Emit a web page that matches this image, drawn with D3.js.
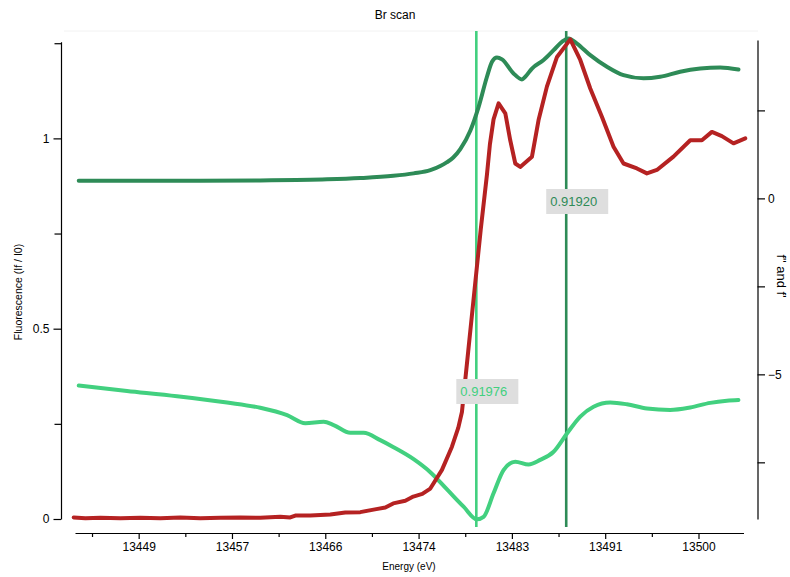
<!DOCTYPE html>
<html>
<head>
<meta charset="utf-8">
<script src="https://cdn.jsdelivr.net/npm/d3@7"></script>
<style>
  body { margin: 0; background: #fff; }
  svg { display: block; font-family: "Liberation Sans", Arial, sans-serif; }
  .axis path, .axis line { stroke: #000; stroke-width: 1.2; }
  .axis text { font-size: 12px; fill: #000; }
</style>
</head>
<body>
<svg id="chart" width="790" height="577"></svg>
<script>
// fluorescence scan (left axis)
var fluorEnergy = [13442.88, 13443.95, 13445.32, 13447.13, 13448.95, 13450.77, 13452.59, 13454.41,
  13456.24, 13458.06, 13459.88, 13461.70, 13462.61, 13463.07, 13464.44, 13466.26, 13467.62,
  13468.99, 13470.45, 13471.27, 13471.99, 13473.09, 13473.82, 13474.64, 13475.37, 13476.43,
  13477.34, 13477.92, 13478.25, 13478.82, 13479.39, 13479.96, 13480.53, 13480.80, 13481.13,
  13481.59, 13482.20, 13482.65, 13483.11, 13483.56, 13484.63,
  13485.23, 13485.99, 13486.91, 13488.12, 13489.03, 13489.94, 13491.00, 13492.06, 13492.97,
  13494.19, 13495.10, 13496.01, 13497.52, 13499.05, 13500.11, 13501.02, 13501.93, 13502.99, 13504.06];
var fluorValue = [0.004, 0.002, 0.003, 0.002, 0.003, 0.002, 0.004, 0.002,
  0.003, 0.004, 0.003, 0.006, 0.004, 0.009, 0.009, 0.012, 0.017,
  0.018, 0.026, 0.030, 0.041, 0.048, 0.059, 0.066, 0.080, 0.129,
  0.190, 0.240, 0.281, 0.440, 0.600, 0.760, 0.905, 0.985, 1.050,
  1.092, 1.066, 0.995, 0.934, 0.925, 0.952,
  1.048, 1.136, 1.214, 1.260, 1.206, 1.131, 1.057, 0.978, 0.934,
  0.921, 0.908, 0.917, 0.952, 0.995, 0.995, 1.017, 1.006, 0.987, 1.000];

// f'' (right axis)
var fppEnergy = [13443.34, 13445.32, 13448.95, 13454.41, 13459.88, 13465.96, 13468.99, 13472.00,
  13473.85, 13475.37, 13476.28, 13476.89, 13477.46, 13478.10, 13479.01, 13479.77,
  13480.53, 13480.99, 13481.44, 13481.90, 13482.95, 13483.72, 13484.02, 13484.63, 13485.69,
  13486.60, 13487.36, 13487.96, 13488.73, 13489.94, 13491.46, 13492.97, 13494.79, 13496.31,
  13498.13, 13499.96, 13501.78, 13503.44];
var fppValue = [0.50, 0.50, 0.50, 0.50, 0.51, 0.54, 0.577, 0.64,
  0.71, 0.80, 0.92, 1.03, 1.16, 1.40, 1.92, 2.60,
  3.455, 3.88, 4.006, 3.95, 3.55, 3.38, 3.455, 3.69, 3.93,
  4.21, 4.45, 4.545, 4.40, 4.07, 3.74, 3.50, 3.41, 3.455,
  3.60, 3.69, 3.72, 3.66];

// f' (right axis)
var fpEnergy = [13443.34, 13447.74, 13452.30, 13456.85, 13459.88, 13462.32, 13463.98, 13465.65,
  13466.56, 13468.08, 13469.29, 13470.81, 13472.02, 13473.85, 13475.37, 13476.89, 13478.40,
  13479.62, 13480.22, 13481.13, 13482.04, 13483.11, 13484.32, 13485.38, 13486.60, 13487.82,
  13489.03, 13490.24, 13491.76, 13493.28, 13495.10, 13497.22, 13499.05, 13500.87, 13502.39, 13503.44];
var fpValue = [-5.32, -5.47, -5.62, -5.80, -5.95, -6.16, -6.39, -6.35,
  -6.44, -6.66, -6.66, -6.87, -7.07, -7.41, -7.78, -8.27, -8.76,
  -9.12, -9.05, -8.38, -7.72, -7.48, -7.56, -7.43, -7.20, -6.68,
  -6.20, -5.92, -5.80, -5.85, -5.97, -6.01, -5.94, -5.81, -5.75, -5.73];

// chosen energies with wavelength labels
var markerEnergy = [13479.56, 13487.75];
var markerLabel = ["0.91976", "0.91920"];

var xTicks = [13448.8, 13457.3, 13465.8, 13474.3, 13482.8, 13491.3, 13499.8];
var xTickLabels = ["13449", "13457", "13466", "13474", "13483", "13491", "13500"];
var xMinorTicks = [13444.55, 13453.05, 13461.55, 13470.05, 13478.55, 13487.05, 13495.55];
var leftTicks = [0, 0.5, 1];
var leftMinorTicks = [0.25, 0.75, 1.25];
var rightTicks = [0, -5];
var rightMinorTicks = [2.5, -2.5, -7.5];

var svg = d3.select("#chart");

var red = "#b52222",
    darkGreen = "#2e8b57",
    lightGreen = "#42d07f";

var x = d3.scaleLinear().domain([13443.0, 13503.9]).range([75, 743.5]);
var yLeft = d3.scaleLinear().domain([0, 1.254]).range([519, 41.7]);
var yRight = d3.scaleLinear().domain([-9.11, 4.5]).range([519, 40]);

// faint plot frame
svg.append("line")
  .attr("x1", 64).attr("x2", 758).attr("y1", 31).attr("y2", 31)
  .attr("stroke", "#f2f2f2").attr("stroke-width", 1);

// vertical markers
svg.selectAll(".marker")
  .data(markerEnergy)
  .enter().append("line")
  .attr("class", "marker")
  .attr("x1", function(d) { return x(d); })
  .attr("x2", function(d) { return x(d); })
  .attr("y1", 31)
  .attr("y2", 527)
  .attr("stroke", function(d, i) { return i == 0 ? lightGreen : darkGreen; })
  .attr("stroke-width", 2.6);

function pairs(xs, ys) {
  return xs.map(function(e, i) { return [e, ys[i]]; });
}

var lineLeft = d3.line()
  .x(function(d) { return x(d[0]); })
  .y(function(d) { return yLeft(d[1]); });

var lineRight = d3.line()
  .curve(d3.curveMonotoneX)
  .x(function(d) { return x(d[0]); })
  .y(function(d) { return yRight(d[1]); });

svg.append("path")
  .datum(pairs(fpEnergy, fpValue))
  .attr("d", lineRight)
  .attr("fill", "none")
  .attr("stroke", lightGreen)
  .attr("stroke-width", 4)
  .attr("stroke-linecap", "round")
  .attr("stroke-linejoin", "round");

svg.append("path")
  .datum(pairs(fppEnergy, fppValue))
  .attr("d", lineRight)
  .attr("fill", "none")
  .attr("stroke", darkGreen)
  .attr("stroke-width", 4)
  .attr("stroke-linecap", "round")
  .attr("stroke-linejoin", "round");

svg.append("path")
  .datum(pairs(fluorEnergy, fluorValue))
  .attr("d", lineLeft)
  .attr("fill", "none")
  .attr("stroke", red)
  .attr("stroke-width", 4)
  .attr("stroke-linecap", "round")
  .attr("stroke-linejoin", "round");

// marker labels
var boxTop = [379, 189];
var labels = svg.selectAll(".mlabel")
  .data(markerEnergy)
  .enter().append("g")
  .attr("class", "mlabel")
  .attr("transform", function(d, i) { return "translate(" + (x(d) - 20) + "," + boxTop[i] + ")"; });

labels.append("rect")
  .attr("width", 62)
  .attr("height", 25)
  .attr("fill", "#dedede");

labels.append("text")
  .attr("x", 4)
  .attr("y", 12.5)
  .attr("dy", "0.35em")
  .style("font-size", "13px")
  .attr("fill", function(d, i) { return i == 0 ? lightGreen : darkGreen; })
  .text(function(d, i) { return markerLabel[i]; });

// bottom axis
svg.append("g")
  .attr("class", "axis")
  .attr("transform", "translate(0,533)")
  .call(d3.axisBottom(x).tickValues(xTicks).tickSize(6).tickSizeOuter(0).tickPadding(3)
    .tickFormat(function(d, i) { return xTickLabels[i]; }));

svg.append("g")
  .attr("class", "axis")
  .attr("transform", "translate(0,533)")
  .call(d3.axisBottom(x).tickValues(xMinorTicks).tickSize(4).tickSizeOuter(0).tickFormat(""))
  .select(".domain").remove();

// left axis
svg.append("g")
  .attr("class", "axis")
  .attr("transform", "translate(61,0)")
  .call(d3.axisLeft(yLeft).tickValues(leftTicks).tickSize(7.5).tickSizeOuter(0).tickPadding(4)
    .tickFormat(d3.format("")));

svg.append("g")
  .attr("class", "axis")
  .attr("transform", "translate(61,0)")
  .call(d3.axisLeft(yLeft).tickValues(leftMinorTicks).tickSize(6.5).tickSizeOuter(0).tickFormat(""))
  .select(".domain").remove();

// right axis
svg.append("g")
  .attr("class", "axis")
  .attr("transform", "translate(757.5,0)")
  .call(d3.axisRight(yRight).tickValues(rightTicks).tickSize(7.5).tickSizeOuter(0).tickPadding(3)
    .tickFormat(d3.format("d")));

svg.append("g")
  .attr("class", "axis")
  .attr("transform", "translate(757.5,0)")
  .call(d3.axisRight(yRight).tickValues(rightMinorTicks).tickSize(7.5).tickSizeOuter(0).tickFormat(""))
  .select(".domain").remove();

// titles
svg.append("text")
  .attr("x", 395)
  .attr("y", 19)
  .attr("text-anchor", "middle")
  .style("font-size", "12px")
  .text("Br scan");

svg.append("text")
  .attr("x", 409)
  .attr("y", 570)
  .attr("text-anchor", "middle")
  .style("font-size", "10px")
  .text("Energy (eV)");

svg.append("text")
  .attr("transform", "translate(22,292) rotate(-90)")
  .attr("text-anchor", "middle")
  .style("font-size", "10.5px")
  .text("Fluorescence (If / I0)");

svg.append("text")
  .attr("transform", "translate(777,276) rotate(90)")
  .attr("text-anchor", "middle")
  .style("font-size", "13px")
  .text("f\" and f'");
</script>
</body>
</html>
